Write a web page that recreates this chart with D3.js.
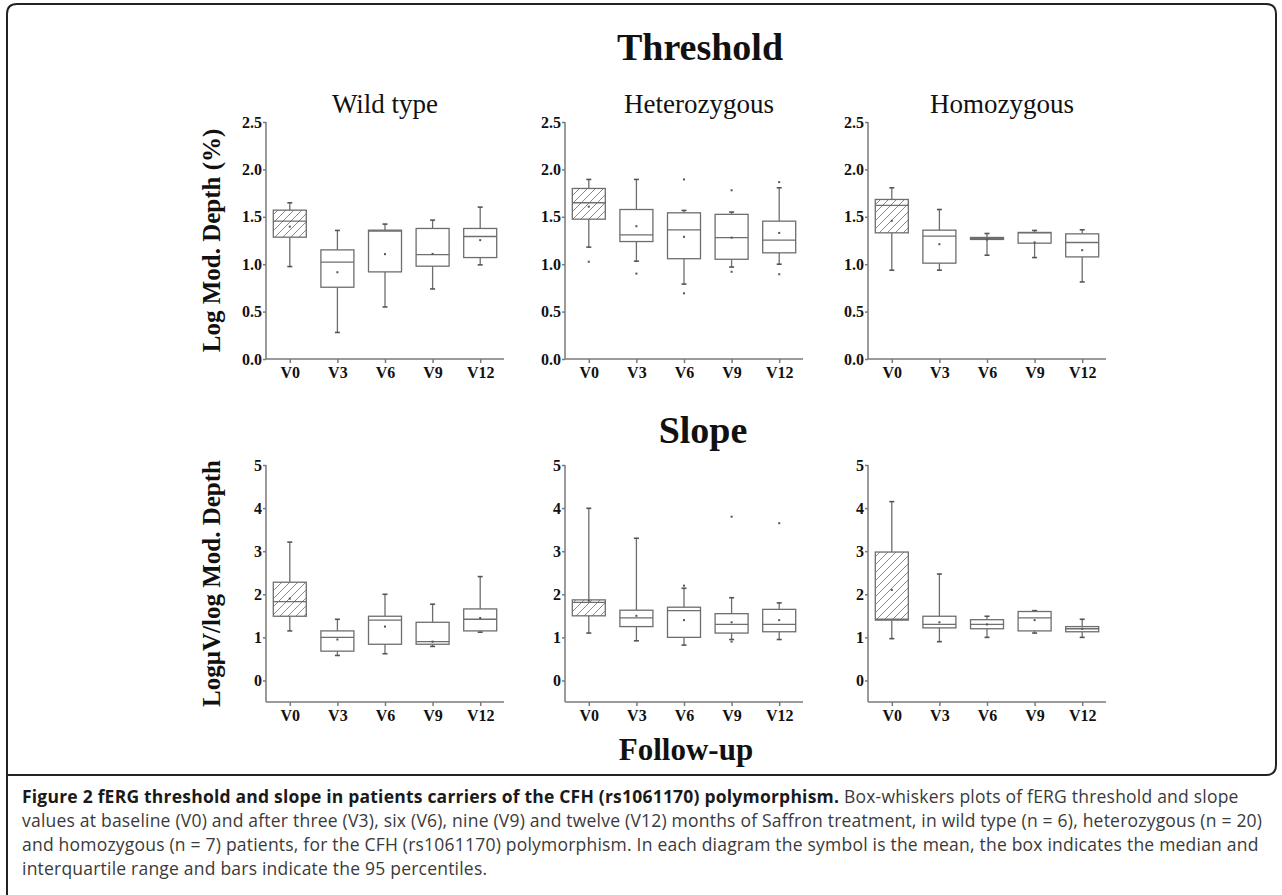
<!DOCTYPE html>
<html>
<head>
<meta charset="utf-8">
<script src="https://cdn.jsdelivr.net/npm/d3@7"></script>
<style>
  body { margin: 0; background: #fff; }
  svg { display: block; }
</style>
</head>
<body>
<svg id="chart" width="1282" height="895"></svg>
<script>
const groups = ['Wild type', 'Heterozygous', 'Homozygous'];
const visits = ['V0', 'V3', 'V6', 'V9', 'V12'];
const thrTicks = [0, 0.5, 1.0, 1.5, 2.0, 2.5];
const slpTicks = [0, 1, 2, 3, 4, 5];

// threshold (log mod. depth %), one row per group, one value per visit
const thrWhiskLo = [[0.975, 0.28, 0.549, 0.739, 0.993], [1.18, 1.032, 0.79, 0.97, 1.0], [0.937, 0.937, 1.095, 1.07, 0.813]];
const thrQ1 = [[1.285, 0.757, 0.919, 0.979, 1.07], [1.475, 1.239, 1.058, 1.052, 1.12], [1.331, 1.011, 1.261, 1.222, 1.077]];
const thrMedian = [[1.454, 1.021, 1.35, 1.102, 1.292], [1.648, 1.31, 1.363, 1.28, 1.254], [1.62, 1.296, 1.271, 1.33, 1.229]];
const thrQ3 = [[1.57, 1.151, 1.359, 1.377, 1.377], [1.799, 1.577, 1.542, 1.526, 1.454], [1.683, 1.359, 1.282, 1.335, 1.32]];
const thrWhiskHi = [[1.648, 1.356, 1.423, 1.465, 1.602], [1.894, 1.894, 1.567, 1.55, 1.806], [1.806, 1.577, 1.324, 1.356, 1.363]];
const thrMean = [[1.396, 0.915, 1.106, 1.109, 1.254], [1.607, 1.401, 1.289, 1.28, 1.33], [1.458, 1.211, 1.26, 1.23, 1.148]];
const thrOutliers = [[[], [], [], [], []], [[1.026], [0.901], [1.894, 0.693], [1.78, 0.92], [1.866, 0.894]], [[], [], [], [], []]];

// slope (log uV / log mod. depth)
const slpWhiskLo = [[1.15, 0.58, 0.62, 0.79, 1.12], [1.1, 0.92, 0.82, 0.95, 0.95], [0.97, 0.9, 1.0, 1.1, 1.0]];
const slpQ1 = [[1.49, 0.68, 0.84, 0.84, 1.15], [1.5, 1.25, 1.0, 1.1, 1.13], [1.4, 1.22, 1.2, 1.15, 1.13]];
const slpMedian = [[1.83, 1.0, 1.4, 0.9, 1.42], [1.81, 1.45, 1.62, 1.3, 1.3], [1.42, 1.3, 1.3, 1.45, 1.2]];
const slpQ3 = [[2.28, 1.15, 1.49, 1.35, 1.66], [1.87, 1.63, 1.7, 1.55, 1.65], [2.98, 1.49, 1.41, 1.6, 1.25]];
const slpWhiskHi = [[3.21, 1.42, 2.0, 1.77, 2.41], [3.995, 3.3, 2.14, 1.92, 1.8], [4.15, 2.47, 1.49, 1.62, 1.42]];
const slpMean = [[1.9, 0.95, 1.25, 0.9, 1.45], [1.85, 1.5, 1.4, 1.35, 1.4], [2.1, 1.35, 1.3, 1.4, 1.2]];
const slpOutliers = [[[], [], [], [], []], [[], [], [2.2], [3.8, 0.9], [3.65]], [[], [], [], [], []]];

const captionBold = 'Figure 2 fERG threshold and slope in patients carriers of the CFH (rs1061170) polymorphism.';
const captionLines = [
  ' Box-whiskers plots of fERG threshold and slope',
  'values at baseline (V0) and after three (V3), six (V6), nine (V9) and twelve (V12) months of Saffron treatment, in wild type (n = 6), heterozygous (n = 20)',
  'and homozygous (n = 7) patients, for the CFH (rs1061170) polymorphism. In each diagram the symbol is the mean, the box indicates the median and',
  'interquartile range and bars indicate the 95 percentiles.'
];

const serif = '"Liberation Serif", "Times New Roman", serif';
const panelLeft = [266, 565, 868];
const panelW = 238;
const boxW = 33;
const axisCol = '#7a7a7a';
const boxCol = '#6e6e6e';

const svg = d3.select('#chart');

// hatch for baseline boxes
svg.append('defs').append('pattern')
  .attr('id', 'hatch')
  .attr('patternUnits', 'userSpaceOnUse')
  .attr('width', 8).attr('height', 8)
  .append('path')
  .attr('d', 'M-2,2 l4,-4 M0,8 l8,-8 M6,10 l4,-4')
  .attr('stroke', '#8a8a8a')
  .attr('stroke-width', 1);

// figure frame
svg.append('path')
  .attr('d', 'M7,895 L7,14 Q7,4 17,4 L1266,4 Q1276,4 1276,14 L1276,765 Q1276,775 1266,775 L7,775')
  .attr('fill', 'none')
  .attr('stroke', '#222')
  .attr('stroke-width', 2);

const rows = [
  { key: 'thr', top: 122, bottom: 359, domain: [0, 2.5], ticks: thrTicks, fmt: d3.format('.1f'),
    lo: thrWhiskLo, q1: thrQ1, med: thrMedian, q3: thrQ3, hi: thrWhiskHi, mean: thrMean, out: thrOutliers,
    ylabel: 'Log Mod. Depth (%)' },
  { key: 'slp', top: 465, bottom: 702, domain: [-0.5, 5], ticks: slpTicks, fmt: d3.format('d'),
    lo: slpWhiskLo, q1: slpQ1, med: slpMedian, q3: slpQ3, hi: slpWhiskHi, mean: slpMean, out: slpOutliers,
    ylabel: 'LogμV/log Mod. Depth' }
];

rows.forEach((r, ri) => {
  const y = d3.scaleLinear().domain(r.domain).range([r.bottom, r.top]);

  groups.forEach((g, gi) => {
    const left = panelLeft[gi];
    const x = d3.scalePoint().domain(visits).range([left, left + panelW]).padding(0.5);
    const panel = svg.append('g').attr('class', 'panel-' + r.key + gi);

    // axes
    const yAxis = d3.axisLeft(y).tickValues(r.ticks).tickFormat(r.fmt).tickSize(3).tickPadding(1);
    const gy = panel.append('g').attr('transform', `translate(${left},0)`).call(yAxis);
    gy.select('.domain').attr('d', `M0,${r.top}V${r.bottom}`);
    const xAxis = d3.axisBottom(x).tickSize(4).tickPadding(4);
    const gx = panel.append('g').attr('transform', `translate(0,${r.bottom})`).call(xAxis);
    gx.select('.domain').attr('d', `M${left},0H${left + panelW}`);
    [gx, gy].forEach(a => {
      a.selectAll('.domain, .tick line').attr('stroke', axisCol).attr('stroke-width', 1.5);
      a.selectAll('text')
        .attr('fill', '#111')
        .style('font-family', serif)
        .style('font-weight', 'bold')
        .style('font-size', '16px');
    });

    // boxes
    const items = visits.map((v, vi) => ({
      v, vi,
      lo: r.lo[gi][vi], q1: r.q1[gi][vi], med: r.med[gi][vi],
      q3: r.q3[gi][vi], hi: r.hi[gi][vi], mean: r.mean[gi][vi], out: r.out[gi][vi]
    }));
    const box = panel.selectAll('.box').data(items).enter().append('g').attr('class', 'box');

    box.append('line')
      .attr('x1', d => x(d.v)).attr('x2', d => x(d.v))
      .attr('y1', d => y(d.hi)).attr('y2', d => y(d.q3))
      .attr('stroke', boxCol).attr('stroke-width', 1.3);
    box.append('line')
      .attr('x1', d => x(d.v)).attr('x2', d => x(d.v))
      .attr('y1', d => y(d.q1)).attr('y2', d => y(d.lo))
      .attr('stroke', boxCol).attr('stroke-width', 1.3);
    ['hi', 'lo'].forEach(k => {
      box.append('line')
        .attr('x1', d => x(d.v) - 2.5).attr('x2', d => x(d.v) + 2.5)
        .attr('y1', d => y(d[k])).attr('y2', d => y(d[k]))
        .attr('stroke', '#555').attr('stroke-width', 1.6);
    });
    box.append('rect')
      .attr('x', d => x(d.v) - boxW / 2)
      .attr('width', boxW)
      .attr('y', d => y(d.q3))
      .attr('height', d => Math.max(1, y(d.q1) - y(d.q3)))
      .attr('fill', d => d.vi === 0 ? 'url(#hatch)' : '#fff')
      .attr('stroke', boxCol).attr('stroke-width', 1.3);
    box.append('line')
      .attr('x1', d => x(d.v) - boxW / 2).attr('x2', d => x(d.v) + boxW / 2)
      .attr('y1', d => y(d.med)).attr('y2', d => y(d.med))
      .attr('stroke', boxCol).attr('stroke-width', 1.3);
    box.append('rect')
      .attr('x', d => x(d.v) - 1).attr('y', d => y(d.mean) - 1)
      .attr('width', 2).attr('height', 2)
      .attr('fill', '#555');
    box.selectAll('.outlier').data(d => d.out.map(o => ({ v: d.v, o }))).enter()
      .append('rect').attr('class', 'outlier')
      .attr('x', d => x(d.v) - 1).attr('y', d => y(d.o) - 1)
      .attr('width', 2).attr('height', 2)
      .attr('fill', '#555');

    // panel titles on the threshold row
    if (ri === 0) {
      panel.append('text')
        .attr('x', left + panelW / 2 + (gi === 0 ? 0 : 15))
        .attr('y', 113)
        .attr('text-anchor', 'middle')
        .style('font-family', serif)
        .style('font-size', '27px')
        .attr('fill', '#111')
        .text(g);
    }
  });

  // y axis title
  svg.append('text')
    .attr('transform', `translate(220,${(r.top + r.bottom) / 2}) rotate(-90)`)
    .attr('text-anchor', 'middle')
    .style('font-family', serif)
    .style('font-weight', 'bold')
    .style('font-size', '25px')
    .attr('fill', '#111')
    .text(r.ylabel);
});

// section titles
const titles = [
  { t: 'Threshold', x: 700, y: 60, s: 38 },
  { t: 'Slope', x: 703, y: 443, s: 38 },
  { t: 'Follow-up', x: 686, y: 760, s: 31 }
];
svg.selectAll('.section-title').data(titles).enter().append('text')
  .attr('class', 'section-title')
  .attr('x', d => d.x).attr('y', d => d.y)
  .attr('text-anchor', 'middle')
  .style('font-family', serif)
  .style('font-weight', 'bold')
  .style('font-size', d => d.s + 'px')
  .attr('fill', '#111')
  .text(d => d.t);

// caption, letter spacing fitted so the long lines run across the frame
const cap = svg.append('g').attr('class', 'caption');
const capFont = '"Open Sans", "Noto Sans", sans-serif';
const capSize = 17.5;
const capLeft = 22;
const capTarget = 1240;
const capTexts = captionLines.map((line, i) => {
  const t = cap.append('text')
    .attr('x', capLeft)
    .attr('y', 803 + i * 24)
    .style('font-family', capFont)
    .style('font-size', capSize + 'px')
    .attr('fill', '#3a3a3a');
  if (i === 0) {
    t.append('tspan').style('font-weight', 'bold').attr('fill', '#1a1a1a').text(captionBold);
  }
  t.append('tspan').text(line);
  return t;
});
const ref = capTexts[1];
const n = captionLines[1].length;
const w = ref.node().getComputedTextLength();
const ls = (capTarget - w) / (n - 1);
capTexts.forEach(t => t.style('letter-spacing', ls + 'px'));
</script>
</body>
</html>
